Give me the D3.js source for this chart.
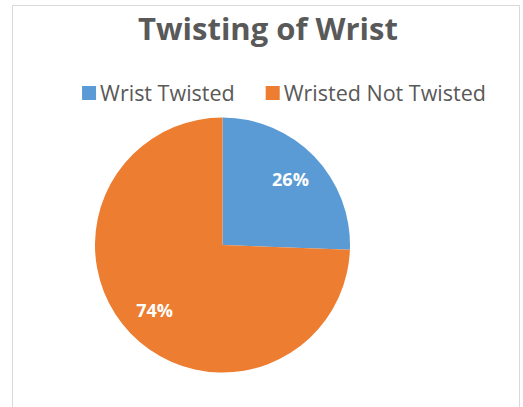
<!DOCTYPE html>
<html>
<head>
<meta charset="utf-8">
<script src="https://cdn.jsdelivr.net/npm/d3@7"></script>
<style>
  html, body { margin: 0; padding: 0; background: #fff; }
  svg { display: block; font-family: "Open Sans", sans-serif; }
</style>
</head>
<body>
<svg id="chart" width="523" height="407"></svg>
<script>
const TITLE      = 'Twisting of Wrist';
const CATEGORIES = ['Wrist Twisted', 'Wristed Not Twisted'];
const VALUES     = [25.6, 74.4];
const COLORS     = ['#5b9bd5', '#ed7d31'];

const CX = 222.5;
const CY = 245;
const RADIUS = 127.5;

const svg = d3.select('#chart');

// chart area border
svg.append('rect')
    .attr('x', 12.5).attr('y', 5.5)
    .attr('width', 507).attr('height', 420)
    .attr('fill', '#fff')
    .attr('stroke', '#d9d9d9');

svg.append('text')
    .attr('x', 268).attr('y', 40)
    .attr('text-anchor', 'middle')
    .attr('font-size', 31)
    .attr('font-weight', 'bold')
    .attr('fill', '#595959')
    .text(TITLE);

// legend
const legend = svg.append('g');
let lx = 0;
CATEGORIES.forEach((name, i) => {
    const item = legend.append('g').attr('transform', `translate(${lx},0)`);
    item.append('rect')
        .attr('x', 0).attr('y', -15)
        .attr('width', 14).attr('height', 14)
        .attr('fill', COLORS[i]);
    const t = item.append('text')
        .attr('x', 18).attr('y', 0)
        .attr('font-size', 21.5)
        .attr('fill', '#595959')
        .text(name);
    lx += 18 + t.node().getComputedTextLength() + 31;
});
const legendWidth = lx - 31;
legend.attr('transform', `translate(${284 - legendWidth / 2},101)`);

// pie
const color = d3.scaleOrdinal().domain(CATEGORIES).range(COLORS);
const pie = d3.pie().sort(null).value(d => d.value);
const arcs = pie(CATEGORIES.map((c, i) => ({ name: c, value: VALUES[i] })));
const total = d3.sum(VALUES);

const arc = d3.arc().innerRadius(0).outerRadius(RADIUS);
const labelArc = d3.arc().innerRadius(RADIUS * 0.74).outerRadius(RADIUS * 0.74);

const g = svg.append('g').attr('transform', `translate(${CX},${CY})`);

g.selectAll('path')
    .data(arcs)
    .join('path')
    .attr('d', arc)
    .attr('fill', d => color(d.data.name));

g.selectAll('text')
    .data(arcs)
    .join('text')
    .attr('transform', d => `translate(${labelArc.centroid(d)})`)
    .attr('text-anchor', 'middle')
    .attr('dy', '0.36em')
    .attr('font-size', 18)
    .attr('font-weight', 'bold')
    .attr('fill', '#fff')
    .text(d => Math.round(d.data.value / total * 100) + '%');
</script>
</body>
</html>
